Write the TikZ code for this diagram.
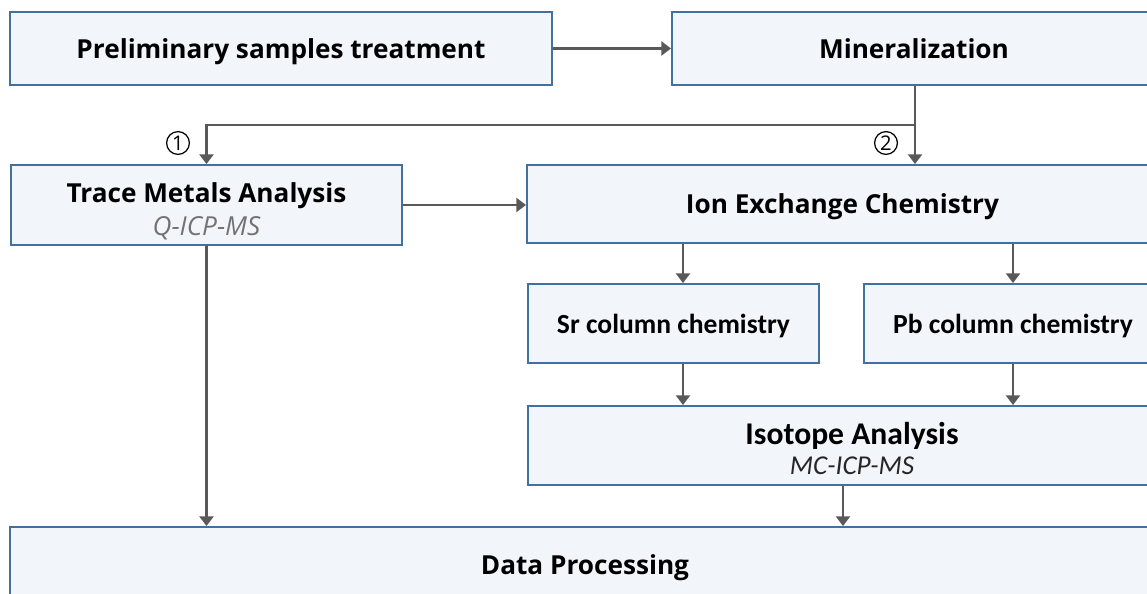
\documentclass[tikz,border=0pt]{standalone}
\usepackage{fontspec}
\setmainfont{Open Sans}
\newfontfamily\calfont{Carlito}
\usetikzlibrary{positioning, arrows.meta}

\definecolor{boxline}{HTML}{41719C}
\definecolor{boxfill}{HTML}{F2F6FB}
\definecolor{flowgrey}{HTML}{595959}

\tikzset{
  procbox/.style={draw=boxline, fill=boxfill, line width=1.1pt, align=center,
    inner sep=0pt, text depth=0pt, font=\fontsize{14.9}{20}\selectfont\bfseries},
  chembox/.style={procbox, font=\calfont\fontsize{15.7}{18}\selectfont\bfseries},
  flow/.style={draw=flowgrey, line width=1.2pt,
    -{Triangle[width=8pt,length=5.5pt]}},
  numcircle/.style={circle, draw=black, line width=0.7pt, inner sep=0.5pt,
    minimum size=13pt, font=\fontsize{11.5}{12}\selectfont}
}
\newcommand{\subline}[2]{\\[-1pt]{\normalfont\itshape\color{#1}#2}}

\begin{document}
\begin{tikzpicture}[x=0.02cm, y=-0.02cm]
                \useasboundingbox (0,0) rectangle (1147,594);
                \node[procbox, minimum width=542*0.02cm, minimum height=73*0.02cm] (prelim) at (281,48.5) {Preliminary samples treatment};
                \node[procbox, minimum width=484*0.02cm, minimum height=73*0.02cm] (mineral) at (914,48.5) {Mineralization};
                \node[procbox, minimum width=391*0.02cm, minimum height=80*0.02cm, text depth=-6.2pt] (trace) at (206.5,205) {\rule{0pt}{15.8pt}Trace Metals Analysis\subline{flowgrey!85}{Q-ICP-MS}};
                \node[procbox, minimum width=631*0.02cm, minimum height=78*0.02cm] (ion) at (842.5,204) {Ion Exchange Chemistry};
                \node[chembox, minimum width=291*0.02cm, minimum height=79*0.02cm] (sr) at (673.5,323.5) {Sr column chemistry};
                \node[chembox, minimum width=298*0.02cm, minimum height=79*0.02cm] (pb) at (1013,323.5) {Pb column chemistry};
                \node[chembox, minimum width=648*0.02cm, minimum height=79*0.02cm, font=\calfont\fontsize{18}{18}\selectfont\bfseries] (iso) at (852,445.5) {\rule{0pt}{16pt}Isotope Analysis\\[-1pt]{\fontsize{15.5}{16}\selectfont\mdseries\itshape\color{black!85}MC-ICP-MS}};
                \node[procbox, minimum width=1150*0.02cm, minimum height=76*0.02cm] (data) at (585,565) {Data Processing};
                \coordinate (split) at (915,125);
                \node[numcircle] (c1) at (178,143) {1};
                \node[numcircle] (c2) at (886,143) {2};
                \draw[flow] (prelim) -- (mineral);
                \draw[flow] (mineral.south -| split) -- (ion.north -| split);
                \draw[flow] (split) -| (trace.north);
                \draw[flow] (trace.east) -- (ion.west |- trace.east);
                \draw[flow] (trace.south) -- (data.north -| trace.south);
                \draw[flow] (ion.south -| 683,0) -- (sr.north -| 683,0);
                \draw[flow] (ion.south -| pb.north) -- (pb.north);
                \draw[flow] (sr.south -| 683,0) -- (iso.north -| 683,0);
                \draw[flow] (pb.south) -- (iso.north -| pb.south);
                \draw[flow] (iso.south -| 843,0) -- (data.north -| 843,0);
            \end{tikzpicture}
\end{document}
